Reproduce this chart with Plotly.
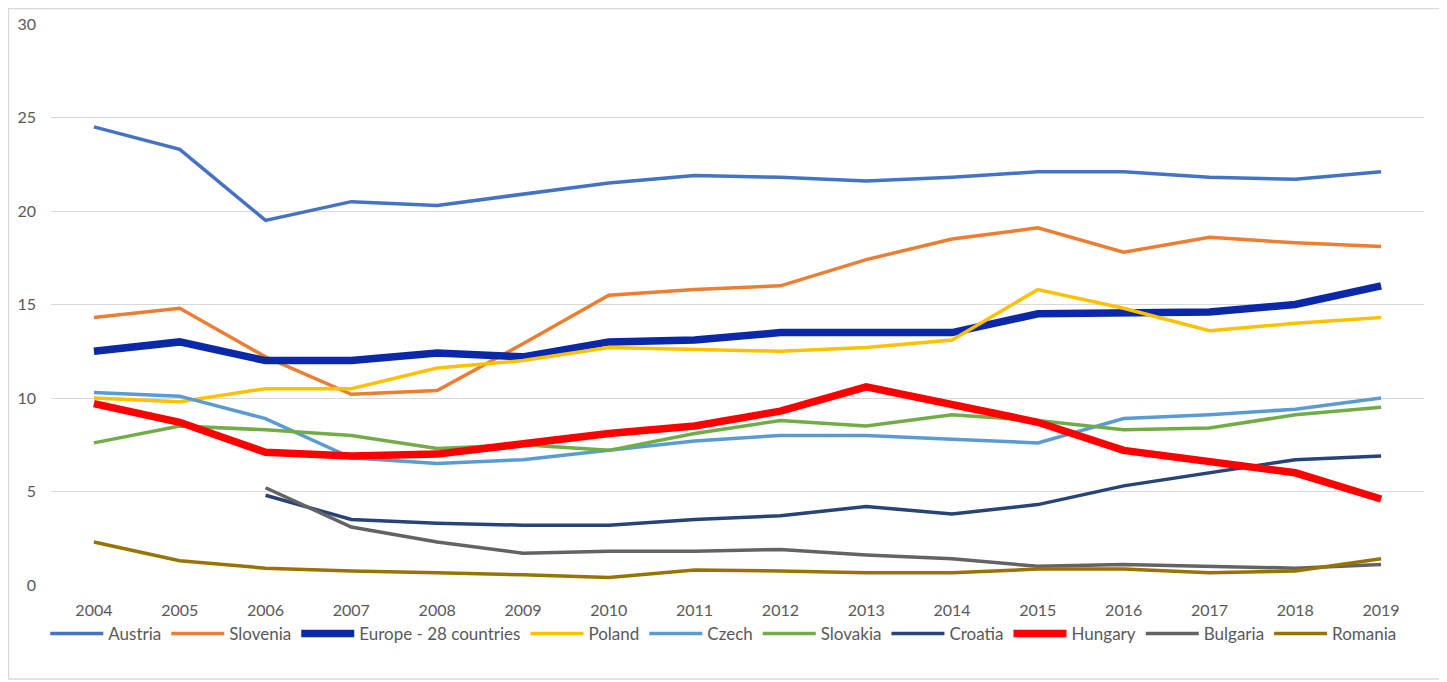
import plotly.graph_objects as go

# Años
anios = list(range(2004, 2020))

# Series
austria = [24.5, 23.3, 19.5, 20.5, 20.3, 20.9, 21.5, 21.9, 21.8, 21.6, 21.8, 22.1, 22.1, 21.8, 21.7, 22.1]
slovenia = [14.3, 14.8, 12.2, 10.2, 10.4, 12.9, 15.5, 15.8, 16.0, 17.4, 18.5, 19.1, 17.8, 18.6, 18.3, 18.1]
europa28 = [12.5, 13.0, 12.0, 12.0, 12.4, 12.2, 13.0, 13.1, 13.5, 13.5, 13.5, 14.5, 14.6, 14.6, 15.0, 16.0]
poland = [10.0, 9.8, 10.5, 10.5, 11.6, 12.0, 12.7, 12.6, 12.5, 12.7, 13.1, 15.8, 14.8, 13.6, 14.0, 14.3]
czech = [10.3, 10.1, 8.9, 6.8, 6.5, 6.7, 7.2, 7.7, 8.0, 8.0, 7.8, 7.6, 8.9, 9.1, 9.4, 10.0]
slovakia = [7.6, 8.5, 8.3, 8.0, 7.3, 7.5, 7.2, 8.1, 8.8, 8.5, 9.1, 8.8, 8.3, 8.4, 9.1, 9.5]
croatia = [None, None, 4.8, 3.5, 3.3, 3.2, 3.2, 3.5, 3.7, 4.2, 3.8, 4.3, 5.3, 6.0, 6.7, 6.9]
hungary = [9.7, 8.7, 7.1, 6.9, 7.0, 7.6, 8.1, 8.5, 9.3, 10.6, 9.7, 8.7, 7.2, 6.6, 6.0, 4.6]
bulgaria = [None, None, 5.2, 3.1, 2.3, 1.7, 1.8, 1.8, 1.9, 1.6, 1.4, 1.0, 1.1, 1.0, 0.9, 1.1]
romania = [2.3, 1.3, 0.9, 0.75, 0.65, 0.55, 0.4, 0.8, 0.75, 0.65, 0.65, 0.85, 0.85, 0.65, 0.75, 1.4]

# nombre, datos, color, grosor
SERIES = [
    ('Austria', austria, '#4472C4', 3.5),
    ('Slovenia', slovenia, '#ED7D31', 3.5),
    ('Europe - 28 countries', europa28, '#0A28A8', 7.5),
    ('Poland', poland, '#FFC000', 3.5),
    ('Czech', czech, '#5B9BD5', 3.5),
    ('Slovakia', slovakia, '#70AD47', 3.5),
    ('Croatia', croatia, '#264478', 3.5),
    ('Hungary', hungary, '#FF0000', 7.5),
    ('Bulgaria', bulgaria, '#636363', 3.5),
    ('Romania', romania, '#997300', 3.5),
]

fig = go.Figure()
for nombre, datos, color, grosor in SERIES:
    fig.add_trace(go.Scatter(
        x=anios, y=datos, name=nombre, mode='lines',
        line=dict(color=color, width=grosor),
        connectgaps=False
    ))

# la página deja ~8 px de margen al cuerpo, se compensa aquí
fig.update_layout(
    width=1447, height=682,
    margin=dict(l=43, r=31, t=16, b=105),
    paper_bgcolor='white', plot_bgcolor='white',
    font=dict(family='Lato', size=16, color='#595959'),
    showlegend=True,
    legend=dict(orientation='h', x=0.49, xanchor='center', y=-0.055, yanchor='top',
                font=dict(size=17, color='#595959'), itemwidth=53,
                traceorder='normal'),
    xaxis=dict(range=[2003.5, 2019.5], tickvals=anios, ticktext=[str(a) for a in anios],
               showgrid=False, zeroline=False, showline=False, ticks='',
               ticklabelstandoff=14, automargin=False),
    yaxis=dict(range=[0, 30], dtick=5, showgrid=True, gridcolor='#D9D9D9', gridwidth=1.3,
               zeroline=False, showline=False, ticks='', ticklabelstandoff=14,
               automargin=False),
)

# marco exterior del gráfico
fig.add_shape(type='rect', xref='paper', yref='paper',
              x0=-0.031, x1=1.0138, y0=-0.1676, y1=1.0276,
              line=dict(color='#D9D9D9', width=1.5), layer='below')

fig.write_html("out.html")
